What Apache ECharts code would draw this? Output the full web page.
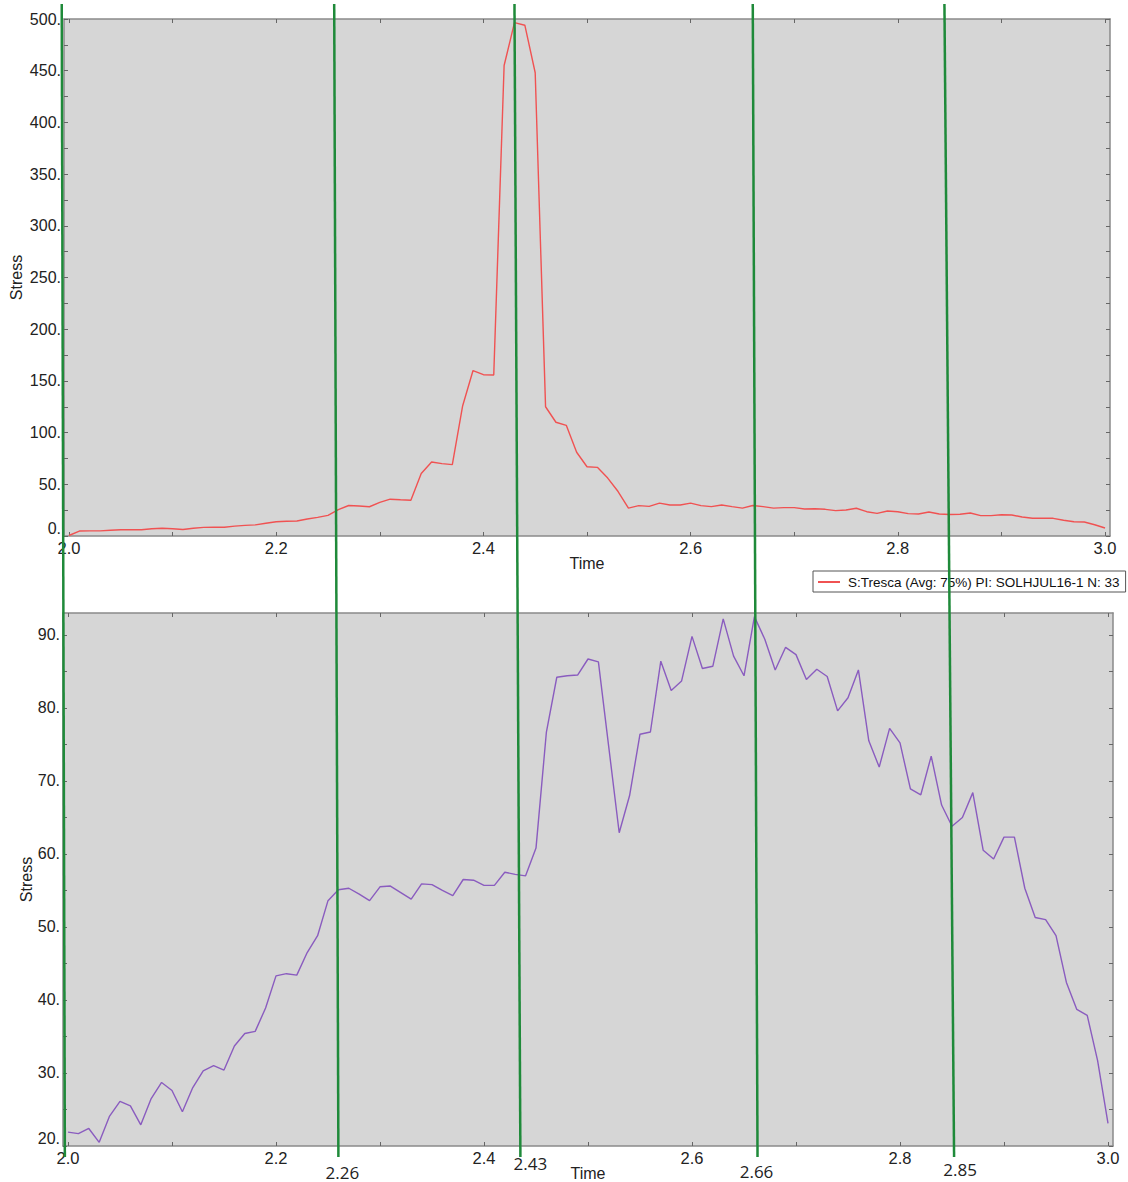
<!DOCTYPE html>
<html><head><meta charset="utf-8">
<script src="https://cdn.jsdelivr.net/npm/echarts@6/dist/echarts.min.js"></script>
<style>html,body{margin:0;padding:0;background:#fff;}#c{width:1128px;height:1182px;}</style>
</head><body><div id="c"></div>
<script>
// ---- data ----
const times = [2.00,2.01,2.02,2.03,2.04,2.05,2.06,2.07,2.08,2.09,
  2.10,2.11,2.12,2.13,2.14,2.15,2.16,2.17,2.18,2.19,
  2.20,2.21,2.22,2.23,2.24,2.25,2.26,2.27,2.28,2.29,
  2.30,2.31,2.32,2.33,2.34,2.35,2.36,2.37,2.38,2.39,
  2.40,2.41,2.42,2.43,2.44,2.45,2.46,2.47,2.48,2.49,
  2.50,2.51,2.52,2.53,2.54,2.55,2.56,2.57,2.58,2.59,
  2.60,2.61,2.62,2.63,2.64,2.65,2.66,2.67,2.68,2.69,
  2.70,2.71,2.72,2.73,2.74,2.75,2.76,2.77,2.78,2.79,
  2.80,2.81,2.82,2.83,2.84,2.85,2.86,2.87,2.88,2.89,
  2.90,2.91,2.92,2.93,2.94,2.95,2.96,2.97,2.98,2.99,3.00];
const trescaStress = [0.5,4.8,5,5,5.5,6,6,6,7,7.5,
  7,6.3,7.5,8.3,8.5,8.5,9.5,10.3,10.8,12.3,
  13.8,14.3,14.5,16.4,18,20,25.5,29.5,29,28.3,
  32.5,35.6,35,34.6,60.5,71.6,70,69,126,160,
  156,155.7,455,496.5,494,448,125,110,107,81,
  67,66.4,56,43,27,29.4,28.7,31.8,30,30,
  31.8,29.4,28.4,30,28.4,27,29.5,28.4,27,27.4,
  27.4,26.1,26.3,25.8,24.5,25.1,26.8,23.5,21.9,24.2,
  23.5,21.6,21.3,23.2,21.3,20.8,21,22.2,19.7,19.7,
  20.6,20.3,18.4,17.1,17.1,17.1,15.2,13.8,13.5,10.9,7.7];
const lowerStress = [21.9,21.7,22.4,20.5,24.1,26.1,25.5,22.9,26.5,28.7,
  27.6,24.7,28.0,30.3,31.0,30.4,33.7,35.4,35.7,38.9,
  43.3,43.6,43.4,46.5,48.8,53.6,55.1,55.3,54.5,53.6,
  55.5,55.6,54.7,53.8,55.9,55.8,55.0,54.3,56.5,56.4,
  55.7,55.7,57.5,57.2,57.0,60.8,76.7,84.2,84.4,84.5,
  86.7,86.3,74.6,62.9,68.0,76.4,76.7,86.4,82.4,83.7,
  89.8,85.4,85.7,92.2,87.1,84.4,92.5,89.4,85.2,88.3,
  87.3,83.9,85.3,84.3,79.6,81.4,85.2,75.5,71.9,77.2,
  75.2,68.9,68.1,73.4,66.7,63.8,65.0,68.4,60.5,59.3,
  62.3,62.3,55.3,51.3,51.0,48.8,42.4,38.7,37.9,31.7,23.1];
const seriesName = 'S:Tresca (Avg: 75%) PI: SOLHJUL16-1 N: 33';
const xTickValues = [2.0,2.1,2.2,2.3,2.4,2.5,2.6,2.7,2.8,2.9,3.0];
const xLabelValues = [2.0,2.2,2.4,2.6,2.8,3.0];
const topYTicks = [0,25,50,75,100,125,150,175,200,225,250,275,300,325,350,375,400,425,450,475,500];
const topYLabels = [0,50,100,150,200,250,300,350,400,450,500];
const botYTicks = [20,25,30,35,40,45,50,55,60,65,70,75,80,85,90];
const botYLabels = [20,30,40,50,60,70,80,90];
// hand-drawn marker lines: time where each line sits at the top and at the bottom
const markerTopTime = [1.993,2.256,2.43,2.66,2.845];
const markerBottomTime = [1.997,2.26,2.435,2.663,2.852];
const markerLabels = ['','2.26','2.43','2.66','2.85'];

// ---- chart ----
const FONT = '"Liberation Sans", Arial, sans-serif';
const AX = '#8a8a8a';
const chart = echarts.init(document.getElementById('c'), null, {renderer:'svg'});
const pair = times.map((t,i)=>[t, trescaStress[i]]);
const pair2 = times.map((t,i)=>[t, lowerStress[i]]);
const XMIN = 1.9952, XMAX = 3.0048;

function xAx(grid, pos, withLabels){
  return {
    gridIndex:grid, type:'value', min:XMIN, max:XMAX, position:pos,
    axisLine:{show:true, onZero:false, lineStyle:{color:AX, width:1.5}},
    axisTick:{show:true, inside:true, length:4, customValues:xTickValues, lineStyle:{color:'#666'}},
    axisLabel:{show:withLabels, customValues:xLabelValues, formatter:v=>v.toFixed(1), fontSize:16.5, color:'#222', fontFamily:FONT, margin:3},
    splitLine:{show:false},
    name: withLabels ? 'Time' : '', nameLocation:'middle', nameGap:19, nameMoveOverlap:false,
    nameTextStyle:{fontSize:16, color:'#222', fontFamily:FONT}
  };
}
function yAx(grid, pos, min, max, ticks, labels, withLabels, gap){
  return {
    gridIndex:grid, type:'value', min:min, max:max, position:pos,
    axisLine:{show:true, onZero:false, lineStyle:{color:AX, width:1.5}},
    axisTick:{show:true, inside:true, length:4, customValues:ticks, lineStyle:{color:'#666'}},
    axisLabel:{show:withLabels, customValues:labels, formatter:v=>v+'.', fontSize:16, color:'#222', fontFamily:FONT, margin:3,
      verticalAlignMinLabel:'bottom'},
    splitLine:{show:false},
    name: withLabels ? 'Stress' : '', nameLocation:'middle', nameGap:gap, nameRotate:90, nameMoveOverlap:false,
    nameTextStyle:{fontSize:16, color:'#222', fontFamily:FONT}
  };
}

chart.setOption({
  animation:false,
  backgroundColor:'#ffffff',
  grid:[
    {left:64, top:19, width:1046, height:517, show:true, backgroundColor:'#d6d6d6', borderWidth:0},
    {left:63, top:613, width:1050, height:534, show:true, backgroundColor:'#d6d6d6', borderWidth:0}
  ],
  xAxis:[ xAx(0,'bottom',true), xAx(0,'top',false), xAx(1,'bottom',true), xAx(1,'top',false) ],
  yAxis:[
    yAx(0,'left',0,500,topYTicks,topYLabels,true,40),
    yAx(0,'right',0,500,topYTicks,topYLabels,false,0),
    yAx(1,'left',20,93,botYTicks,botYLabels,true,29),
    yAx(1,'right',20,93,botYTicks,botYLabels,false,0)
  ],
  legend:{
    data:[seriesName], left:813, top:571, orient:'horizontal',
    backgroundColor:'#fff', borderColor:'#555', borderWidth:1, borderRadius:0,
    padding:[4,6,3,5], itemWidth:22, itemHeight:2, icon:'rect',
    textStyle:{fontSize:13.5, color:'#111', fontFamily:FONT, padding:[0,0,0,3]}
  },
  series:[
    {name:seriesName, type:'line', xAxisIndex:0, yAxisIndex:0, data:pair, symbol:'none',
      lineStyle:{color:'#f05252', width:1.4}, itemStyle:{color:'#f05252'}},
    {name:'lower', type:'line', xAxisIndex:2, yAxisIndex:2, data:pair2, symbol:'none',
      lineStyle:{color:'#8a5cbf', width:1.4}, itemStyle:{color:'#8a5cbf'}}
  ]
});

// marker lines drawn from the axis scales
const labelNudge = [[0,0],[4,1172],[10,1163],[-1,1171],[6,1169]];
const g = [];
markerTopTime.forEach((tt,i)=>{
  const xt = chart.convertToPixel({xAxisIndex:0}, tt);
  const xb = chart.convertToPixel({xAxisIndex:2}, markerBottomTime[i]);
  g.push({type:'line', z:100, shape:{x1:xt, y1:4, x2:xb, y2:1157},
    style:{stroke:'#1f8a3a', lineWidth:2.5}});
  if (markerLabels[i]) {
    g.push({type:'text', z:101, x:xb+labelNudge[i][0], y:labelNudge[i][1],
      style:{text:markerLabels[i], fill:'#222', fontSize:17, fontFamily:'"Open Sans", "Noto Sans", sans-serif',
        align:'center', verticalAlign:'middle'}});
  }
});
chart.setOption({graphic:g});
</script>
</body></html>
